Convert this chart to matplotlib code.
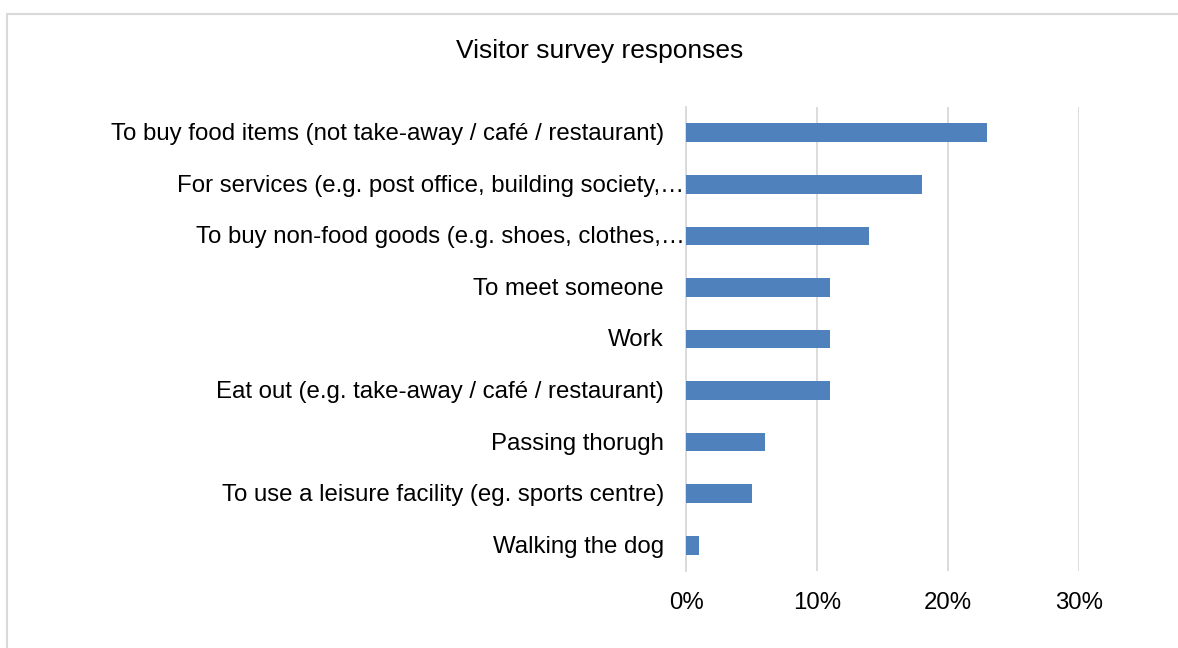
import matplotlib.pyplot as plt
from matplotlib.patches import Rectangle
from matplotlib.ticker import FuncFormatter
import matplotlib.transforms as mtransforms

plt.rcParams["font.family"] = ["Liberation Sans", "DejaVu Sans"]

# survey reasons, top to bottom
reasons = [
    "To buy food items (not take-away / café / restaurant)",
    "For services (e.g. post office, building society,…",
    "To buy non-food goods (e.g. shoes, clothes,…",
    "To meet someone",
    "Work",
    "Eat out (e.g. take-away / café / restaurant)",
    "Passing thorugh",
    "To use a leisure facility (eg. sports centre)",
    "Walking the dog",
]
shares = [23, 18, 14, 11, 11, 11, 6, 5, 1]
truncated = [False, True, True, False, False, False, False, False, False]
x_ticks = [0, 10, 20, 30]

BAR = "#4f81bd"
GRID = "#d9d9d9"
FS = 17.3

fig = plt.figure(figsize=(11.78, 6.48), dpi=100)
W, H = 1178, 648

# outer chart frame, running off the right and bottom edges
fig.patches.append(Rectangle((7 / W, -0.1), 1.2, 1 - 14 / H + 0.1,
                             transform=fig.transFigure, fill=False,
                             edgecolor=GRID, linewidth=1.5))

ax = fig.add_axes([686 / W, 1 - 571 / H, (1079 - 686) / W, (571 - 107) / H])
ypos = list(range(len(reasons)))
ax.barh(ypos, shares, height=0.36, color=BAR, zorder=3)
ax.set_ylim(len(reasons) - 0.5, -0.5)
ax.set_xlim(0, 30)

ax.set_xticks(x_ticks)
ax.xaxis.set_major_formatter(FuncFormatter(lambda v, _: f"{v:.0f}%"))
ax.tick_params(axis="x", length=0, pad=15, labelsize=FS, colors="#000000")
ax.grid(axis="x", color=GRID, linewidth=1.3, zorder=0)
ax.set_yticks([])
for s in ["top", "right", "bottom"]:
    ax.spines[s].set_visible(False)
ax.spines["left"].set_color(GRID)
ax.spines["left"].set_linewidth(1.3)
ax.spines["left"].set_zorder(1)

# category labels, the clipped ones run up to the axis
for y, label, cut in zip(ypos, reasons, truncated):
    off = mtransforms.offset_copy(ax.get_yaxis_transform(), fig=fig,
                                  x=-1 if cut else -16, y=-1, units="points")
    ax.text(0, y, label, transform=off, ha="right", va="center",
            fontsize=FS, color="#000000")

fig.text(600 / W, 1 - 51 / H, "Visitor survey responses", ha="center",
         va="center", fontsize=19, color="#000000")

fig.savefig("out.png", dpi=100)
